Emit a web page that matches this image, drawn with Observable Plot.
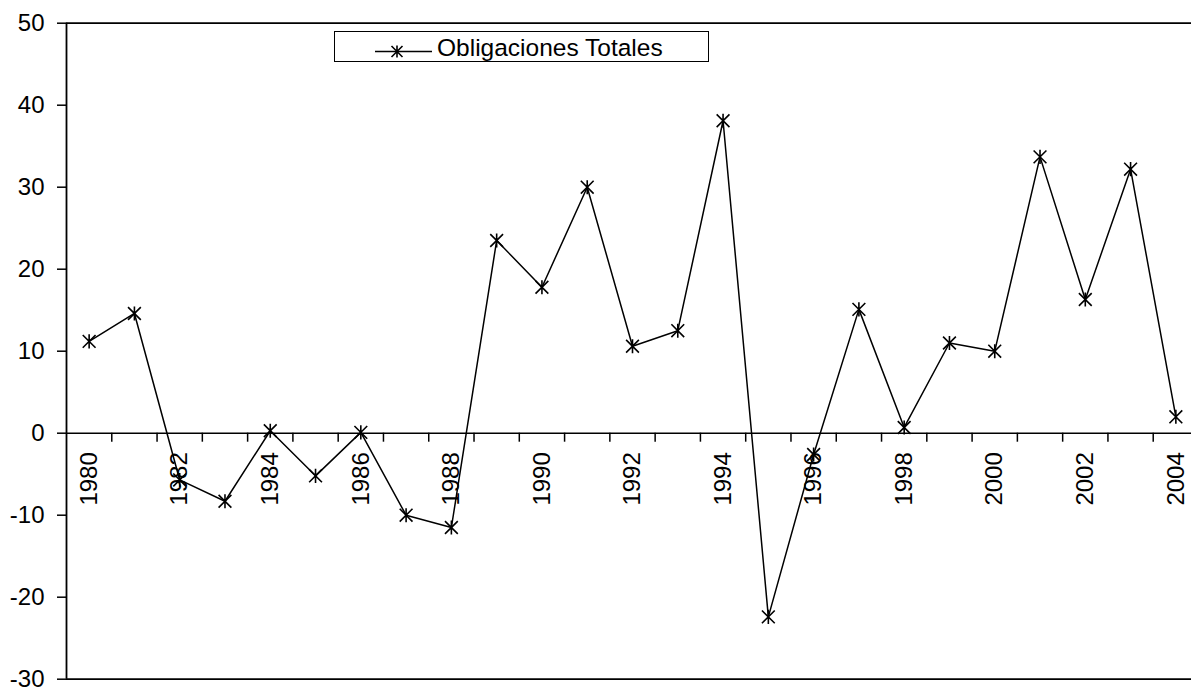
<!DOCTYPE html>
<html>
<head>
<meta charset="utf-8">
<script src="https://cdn.jsdelivr.net/npm/d3@7"></script>
<script src="https://cdn.jsdelivr.net/npm/@observablehq/plot@0.6"></script>
<style>
  html, body { margin: 0; padding: 0; background: #fff; overflow: hidden; }
  #wrap { position: relative; width: 1191px; height: 688px; }
  #wrap svg { max-width: none; }
  #legend {
    position: absolute; left: 334px; top: 31px; width: 373px; height: 29px;
    border: 1.5px solid #000; background: #fff; box-sizing: content-box;
    font-family: "Liberation Sans", Arial, sans-serif; font-size: 24.5px; color: #000;
  }
  #legend svg { position: absolute; left: 40px; top: 0; }
  #legend span { position: absolute; left: 102px; top: 1px; line-height: 29px; white-space: nowrap; }
</style>
</head>
<body>
<div id="wrap"></div>
<script>
const years = [1980,1981,1982,1983,1984,1985,1986,1987,1988,1989,1990,1991,1992,1993,1994,1995,1996,1997,1998,1999,2000,2001,2002,2003,2004];
const obligacionesTotales = [11.2,14.6,-5.7,-8.3,0.3,-5.2,0.1,-10.0,-11.5,23.5,17.8,30.0,10.6,12.5,38.1,-22.4,-2.6,15.1,0.7,11.0,10.0,33.7,16.3,32.2,2.0];
const yTicks = [-30,-20,-10,0,10,20,30,40,50];
const xLabelYears = [1980,1982,1984,1986,1988,1990,1992,1994,1996,1998,2000,2002,2004];
const seriesName = "Obligaciones Totales";

const data = years.map((year, i) => ({year, value: obligacionesTotales[i]}));
const boundaries = years.slice(0, -1).map(y => y + 0.5);

const star = {
  draw(context, size) {
    const r = Math.sqrt(size / Math.PI);
    context.moveTo(-r, -r); context.lineTo(r, r);
    context.moveTo(-r, r); context.lineTo(r, -r);
    context.moveTo(0, -r * 1.1); context.lineTo(0, r * 1.1);
  }
};

const H = 688, mTop = 22.7, mBottom = 9.3;
const unitPerPx = 80 / (H - mTop - mBottom);
const tickLen = 9 * unitPerPx;

const chart = Plot.plot({
  width: 1191,
  height: H,
  marginLeft: 66,
  marginRight: -7,
  marginTop: mTop,
  marginBottom: mBottom,
  style: {fontFamily: "'Liberation Sans', Arial, sans-serif", fontSize: "24px", color: "#000", background: "#fff"},
  x: {type: "linear", domain: [years[0] - 0.5, years[years.length - 1] + 0.5], axis: null},
  y: {domain: [yTicks[0], yTicks[yTicks.length - 1]], axis: null},
  marks: [
    Plot.ruleY([yTicks[yTicks.length - 1], yTicks[0]], {stroke: "#000", strokeWidth: 1.8}),
    Plot.ruleX([years[0] - 0.5], {stroke: "#000", strokeWidth: 1.8}),
    Plot.ruleY([0], {stroke: "#000", strokeWidth: 1.5}),
    Plot.axisY({ticks: yTicks, label: null, tickSize: 9, tickPadding: 13, tickFormat: d => String(d), fontSize: 24, stroke: "#000", strokeWidth: 1.5}),
    Plot.ruleX(boundaries, {x: d => d, y1: 0, y2: -tickLen, stroke: "#000", strokeWidth: 1.5}),
    Plot.text(xLabelYears, {x: d => d, y: () => 0, text: d => String(d), rotate: -90, textAnchor: "end", dy: 19, fontSize: 24, fill: "#000"}),
    Plot.line(data, {x: "year", y: "value", stroke: "#000", strokeWidth: 1.5}),
    Plot.dot(data, {x: "year", y: "value", symbol: star, r: 6.4, stroke: "#000", strokeWidth: 1.6, fill: "none"})
  ]
});

const wrap = document.getElementById("wrap");
wrap.appendChild(chart);

const legend = document.createElement("div");
legend.id = "legend";
const ls = d3.create("svg").attr("width", 60).attr("height", 29);
ls.append("line").attr("x1", 0).attr("x2", 57).attr("y1", 19.5).attr("y2", 19.5).attr("stroke", "#000").attr("stroke-width", 1.5);
ls.append("path").attr("transform", "translate(22,19.5)")
  .attr("d", d3.symbol(star, Math.PI * 5.5 * 5.5)())
  .attr("stroke", "#000").attr("stroke-width", 1.6).attr("fill", "none");
legend.appendChild(ls.node());
const label = document.createElement("span");
label.textContent = seriesName;
legend.appendChild(label);
wrap.appendChild(legend);
</script>
</body>
</html>
